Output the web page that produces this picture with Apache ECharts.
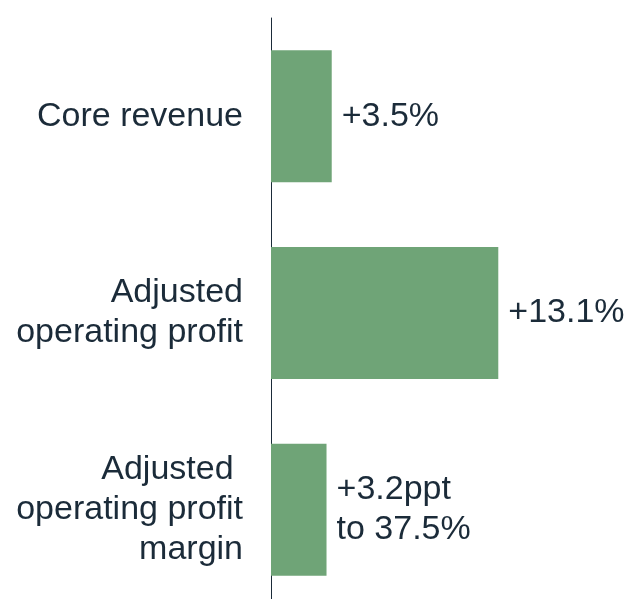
<!DOCTYPE html>
<html>
<head>
<meta charset="utf-8">
<script src="https://cdn.jsdelivr.net/npm/echarts@6/dist/echarts.min.js"></script>
<style>html,body{margin:0;padding:0;background:#fff;}#c{width:630px;height:599px;}</style>
</head>
<body>
<div id="c"></div>
<script>
const categories = ['Core revenue', 'Adjusted\noperating profit', 'Adjusted \noperating profit\nmargin'];
const values = [3.5, 13.1, 3.2];
const valueLabels = ['+3.5%', '+13.1%', '+3.2ppt\nto 37.5%'];

const textColor = '#1b2b39';
const chart = echarts.init(document.getElementById('c'), null, {renderer: 'canvas'});
chart.setOption({
  animation: false,
  grid: {left: 271, top: 18, width: 347, height: 590, containLabel: false, outerBoundsMode: 'none'},
  xAxis: {
    type: 'value', min: 0, max: 20,
    show: false
  },
  yAxis: {
    type: 'category', inverse: true, data: categories,
    axisLine: {show: true, lineStyle: {color: textColor, width: 1}},
    axisTick: {show: false},
    axisLabel: {
      margin: 28, fontSize: 34, lineHeight: 40, color: textColor,
      fontFamily: 'Liberation Sans', align: 'right', padding: [6, 0, 0, 0]
    }
  },
  series: [{
    type: 'bar',
    data: values,
    barWidth: 132,
    itemStyle: {color: '#6fa477'},
    label: {
      show: true, position: 'right', distance: 10,
      formatter: p => valueLabels[p.dataIndex],
      fontSize: 34, lineHeight: 40, color: textColor,
      fontFamily: 'Liberation Sans', align: 'left', padding: [5, 0, 0, 0]
    }
  }]
});
</script>
</body>
</html>
